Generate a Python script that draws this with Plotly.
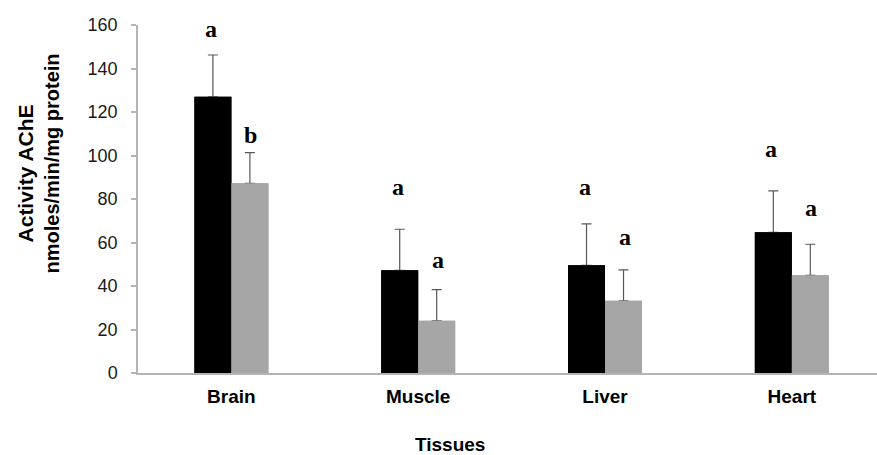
import plotly.graph_objects as go

# Tissue categories and AChE activity (nmoles/min/mg protein)
tissues = ["Brain", "Muscle", "Liver", "Heart"]
control_mean = [127.0, 47.2, 49.5, 64.7]
control_sd = [19.2, 18.9, 19.1, 19.0]
treated_mean = [87.2, 24.0, 33.2, 44.9]
treated_sd = [14.1, 14.3, 14.2, 14.3]

# Significance letters above each bar
control_letters = ["a", "a", "a", "a"]
treated_letters = ["b", "a", "a", "a"]
control_letter_y = [158.0, 85.5, 85.5, 103.0]
treated_letter_y = [109.5, 52.0, 62.5, 76.0]

y_ticks = [0, 20, 40, 60, 80, 100, 120, 140, 160]

BAR_W = 0.198
SANS = "Liberation Sans, Arial, sans-serif"
SERIF = "Liberation Serif, Times New Roman, serif"
ERR_COLOR = "#595959"
AXIS_COLOR = "#b4b4b4"

fig = go.Figure()

series = [
    ("Control", control_mean, control_sd, "#000000", -BAR_W),
    ("Treated", treated_mean, treated_sd, "#a6a6a6", 0.0),
]

# bars with upper error bars
for name, mean, sd, color, off in series:
    fig.add_trace(go.Bar(
        x=tissues, y=mean, name=name, width=BAR_W, offset=off,
        marker=dict(color=color, line=dict(width=0)),
        error_y=dict(type="data", symmetric=False, array=sd,
                     arrayminus=[0] * len(sd), color=ERR_COLOR,
                     thickness=1.2, width=5),
        showlegend=False, hoverinfo="skip",
    ))

# same bars redrawn on top so the lower error cap stays hidden
for name, mean, sd, color, off in series:
    fig.add_trace(go.Bar(
        x=tissues, y=mean, name=name, width=BAR_W, offset=off,
        marker=dict(color=color, line=dict(width=0)),
        showlegend=False,
    ))

annotations = []
for i in range(len(tissues)):
    annotations.append(dict(
        x=i - BAR_W / 2, y=control_letter_y[i], xref="x", yref="y",
        text=control_letters[i], showarrow=False, xshift=-2,
        font=dict(family=SERIF, size=24, color="black", weight="bold"),
    ))
    annotations.append(dict(
        x=i + BAR_W / 2, y=treated_letter_y[i], xref="x", yref="y",
        text=treated_letters[i], showarrow=False, xshift=1,
        font=dict(family=SERIF, size=24, color="black", weight="bold"),
    ))

# two-line y-axis title
annotations.append(dict(
    x=-0.1522, y=0.572, xref="paper", yref="paper", textangle=-90,
    text="Activity AChE", showarrow=False, xanchor="center", yanchor="middle",
    font=dict(family=SANS, size=21, color="black", weight="bold"),
))
annotations.append(dict(
    x=-0.1164, y=0.602, xref="paper", yref="paper", textangle=-90,
    text="nmoles/min/mg protein", showarrow=False, xanchor="center", yanchor="middle",
    font=dict(family=SANS, size=20, color="black", weight="bold"),
))
# x-axis title
annotations.append(dict(
    x=0.4222, y=-0.205, xref="paper", yref="paper",
    text="Tissues", showarrow=False, xanchor="center", yanchor="middle",
    font=dict(family=SANS, size=19, color="black", weight="bold"),
))

fig.update_layout(
    width=877, height=455,
    margin=dict(l=138, r=0, t=25, b=82),
    paper_bgcolor="white", plot_bgcolor="white",
    barmode="overlay",
    annotations=annotations,
    xaxis=dict(
        type="category", range=[-0.5, 3.456],
        showline=True, linecolor=AXIS_COLOR, linewidth=1.5,
        ticks="", showgrid=False, zeroline=False,
        tickfont=dict(family=SANS, size=19, color="black", weight="bold"),
        ticklabelstandoff=5,
    ),
    yaxis=dict(
        range=[0, 160], tickvals=y_ticks,
        showline=True, linecolor=AXIS_COLOR, linewidth=1.5,
        ticks="outside", ticklen=5, tickcolor=AXIS_COLOR, tickwidth=1.5,
        showgrid=False, zeroline=False,
        tickfont=dict(family=SANS, size=18, color="#1a1a1a"),
        ticklabelstandoff=10,
    ),
)

fig.write_html("out.html")
